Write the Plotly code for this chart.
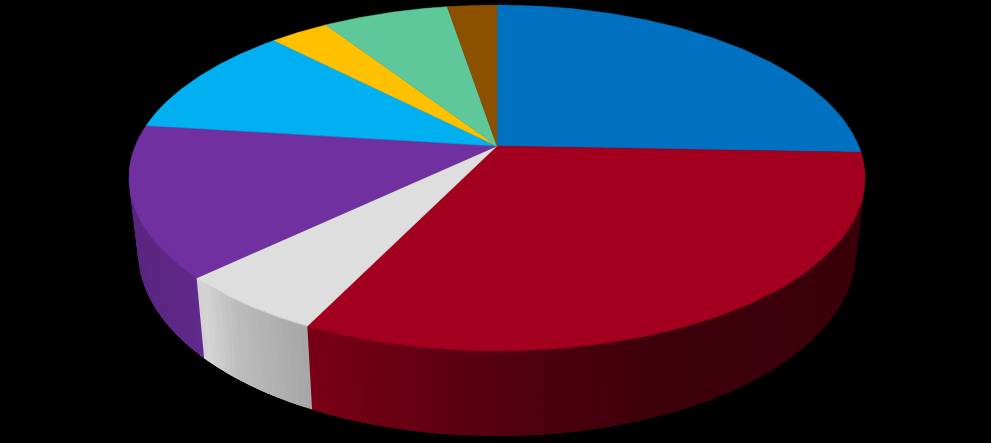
import numpy as np
import plotly.graph_objects as go

labels = ["Blue", "Red", "Light grey", "Purple", "Sky", "Amber", "Green", "Brown"]
shares = [25.6, 31.6, 5.7, 14.1, 10.7, 3.1, 6.6, 2.6]
colors = ["#0070C0", "#A2001E", "#DEDEDE", "#7030A0", "#00B0F0", "#FFC000", "#5FC89B", "#8B5000"]

# picture geometry of the tilted disc, in pixels
CX, CY = 497, 146
RX, RY, PERSP = 361.7, 167, 0.185
BOTTOM_SCALE, BOTTOM_SLOPE = 0.975, 1.065

# how much the wall colour is dimmed going left to right
shade_x = [128, 194, 200, 235, 300, 320, 500, 650, 860]
shade_f = [0.80, 0.86, 0.97, 0.85, 0.76, 0.74, 0.52, 0.38, 0.36]


def rim(angle):
    # angle in degrees, clockwise from the top
    a = np.radians(angle)
    w = 1 + PERSP * np.cos(a)
    return CX + RX * np.sin(a) / w, CY - RY * np.cos(a) / w


def lower(x, y):
    return CX + (x - CX) * BOTTOM_SCALE, 436 + BOTTOM_SLOPE * (y - 351)


def dim(hex_color, f):
    rgb = [int(hex_color[i:i + 2], 16) for i in (1, 3, 5)]
    return "rgb(%d,%d,%d)" % tuple(min(255, c * f) for c in rgb)


fig = go.Figure()

edges = np.concatenate([[0], np.cumsum(shares)]) / sum(shares) * 360

# walls first, the top covers whatever sticks out
# each strip runs on under the next one so no seams show
STEP = 1.0
for i in range(len(shares)):
    start, end = edges[i], edges[i + 1]
    n = max(2, int((end - start) / STEP))
    steps = np.linspace(start, end, n + 1)
    for s0, s1 in zip(steps[:-1], steps[1:]):
        if s1 < 88 or s0 > 285:
            continue
        arc = np.array([s0, s1, s1 + 2 * STEP])
        if s1 >= end - 1e-6:
            arc = np.array([s0, s1, s1])
        xs, ys = rim(arc)
        bx, by = lower(xs, ys)
        f = np.interp(xs[:2].mean(), shade_x, shade_f)
        c = dim(colors[i], f)
        fig.add_trace(go.Scatter(
            x=[*xs, *bx[::-1], xs[0]], y=[*ys, *by[::-1], ys[0]],
            mode="lines", fill="toself", fillcolor=c,
            line=dict(color=c, width=0), hoverinfo="skip", showlegend=False,
        ))

for i in range(len(shares)):
    steps = np.linspace(edges[i], edges[i + 1], 80)
    xs, ys = rim(steps)
    fig.add_trace(go.Scatter(
        x=[CX, *xs, CX], y=[CY, *ys, CY],
        mode="lines", fill="toself", fillcolor=colors[i],
        line=dict(color=colors[i], width=0.5), name=labels[i],
        hoverinfo="name", showlegend=False,
    ))

fig.update_layout(
    width=991, height=443,
    margin=dict(l=0, r=0, t=0, b=0),
    paper_bgcolor="black", plot_bgcolor="black",
    xaxis=dict(range=[0, 991], visible=False),
    yaxis=dict(range=[443, 0], visible=False),
)

fig.write_html(
    "out.html",
    config={"displayModeBar": False},
    post_script="document.body.style.margin='0';document.body.style.background='black';",
)
